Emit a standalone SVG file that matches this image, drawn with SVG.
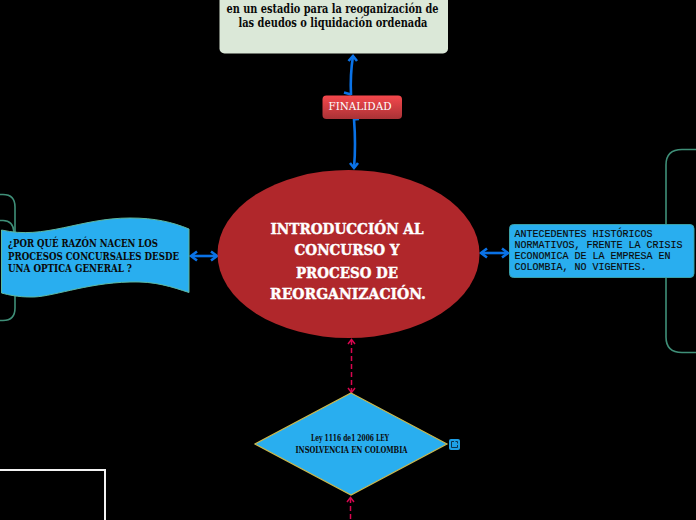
<svg xmlns="http://www.w3.org/2000/svg" width="696" height="520" viewBox="0 0 696 520">
<style>
.s{font-family:"DejaVu Serif Condensed","DejaVu Serif",serif;fill:#0a0a0a;text-anchor:middle}
.b{fill:none;stroke:#0a72e6;stroke-width:2.6}
.p{fill:none;stroke:#d8064f;stroke-width:1.5}
.br{fill:none;stroke:#3f8f78;stroke-width:1.6}
.t{font-family:"DejaVu Serif Condensed","DejaVu Serif",serif;font-weight:bold;font-size:15.5px;fill:#fff;stroke:#fff;stroke-width:.4;text-anchor:middle}
.m{font-family:"Liberation Mono",monospace;font-size:10px;fill:#0a0a0a;stroke:#0a0a0a;stroke-width:.15}
.l{font-family:"DejaVu Serif Condensed","DejaVu Serif",serif;font-weight:bold;font-size:10.5px;fill:#0a0a0a}
</style>
<defs>
<linearGradient id="rg" x1="0" y1="0" x2="0" y2="1"><stop offset="0" stop-color="#f5484c"/><stop offset="1" stop-color="#a93236"/></linearGradient>
</defs>
<rect width="696" height="520" fill="#000"/>
<g id="decor">
<path class="br" d="M0 194.500H3Q15 194.500 15 207V308Q15 320.500 3 320.500H0"/>
<path class="br" d="M0 220.500H3Q13 220.500 14 232"/>
<path class="br" d="M696 149.500H682Q666 149.500 666 165V337Q666 352.500 682 352.500H696"/>
<path d="M0 470H105V520" fill="none" stroke="#f2f2f2" stroke-width="2"/>
</g>
<g id="connectors">
<path class="b" d="M353 56Q350 75 351 95"/>
<path class="b" d="M348.500 61L353 56L357 61"/>
<path class="b" d="M344 92.500L351 94.500"/>
<path class="b" d="M354 119Q356 145 354 168"/>
<path class="b" d="M350 163L354 168L358 163"/>
<path class="b" d="M353 119.500L359 119"/>
<path class="b" d="M192 256H216"/>
<path class="b" d="M197 251.500L191 256L197 260.500M211 251.500L217 256L211 260.500"/>
<path class="b" d="M481 253H508"/>
<path class="b" d="M487 248.500L481 253L487 257.500M502 248.500L508 253L502 257.500"/>
<path class="p" stroke-dasharray="5 3" d="M351.500 340V392"/>
<path class="p" d="M348 344L351.500 339.500L355 344M348 388L351.500 392.500L355 388"/>
<path class="p" stroke-dasharray="5 3" d="M350.500 498V520"/>
<path class="p" d="M347 502L350.500 497.500L354 502"/>
</g>
<g id="node-top">
<rect x="219.500" y="-20" width="228.500" height="73.500" rx="5" fill="#dbe8d8"/>
<text class="s" x="332.500" y="12.500" font-size="12" font-weight="bold" textLength="212" lengthAdjust="spacingAndGlyphs">en un estadio para la reoganización de</text>
<text class="s" x="333" y="27" font-size="12" font-weight="bold" textLength="189" lengthAdjust="spacingAndGlyphs">las deudos o liquidación ordenada</text>
</g>
<g id="node-finalidad">
<rect x="322.500" y="95.500" width="79.500" height="23.500" rx="4" fill="url(#rg)"/>
<text x="360" y="110" font-family="DejaVu Serif Condensed, DejaVu Serif, serif" font-size="11" fill="#fff" text-anchor="middle" textLength="63" lengthAdjust="spacingAndGlyphs">FINALIDAD</text>
</g>
<g id="node-main">
<ellipse cx="348.500" cy="254" rx="131" ry="84" fill="#b0272b"/>
<text class="t" x="347" y="234" textLength="153" lengthAdjust="spacingAndGlyphs">INTRODUCCIÓN AL</text>
<text class="t" x="347" y="255" textLength="105" lengthAdjust="spacingAndGlyphs">CONCURSO Y</text>
<text class="t" x="347" y="278" textLength="102" lengthAdjust="spacingAndGlyphs">PROCESO DE</text>
<text class="t" x="348" y="299" textLength="156" lengthAdjust="spacingAndGlyphs">REORGANIZACIÓN.</text>
</g>
<g id="node-left">
<path d="M1.500 230C45 240 80 218 130 218C155 218 172 222 189 229V292.500C172 287 155 281 130 282C85 283 50 298 30 297C18 297 9 295 1.500 293Z" fill="#29aeef" stroke="#5fb8a0" stroke-width="1"/>
<text class="l" x="8" y="247" textLength="150" lengthAdjust="spacingAndGlyphs">¿POR QUÉ RAZÓN NACEN LOS</text>
<text class="l" x="8" y="260" textLength="171" lengthAdjust="spacingAndGlyphs">PROCESOS CONCURSALES DESDE</text>
<text class="l" x="8" y="272" textLength="124" lengthAdjust="spacingAndGlyphs">UNA OPTICA GENERAL ?</text>
</g>
<g id="node-right">
<rect x="509.500" y="224.500" width="184.500" height="53" rx="4" fill="#29aeef" stroke="#3aa0a8" stroke-width="1"/>
<text class="m" x="514.500" y="236.500">ANTECEDENTES HISTÓRICOS</text>
<text class="m" x="514.500" y="247.500">NORMATIVOS, FRENTE LA CRISIS</text>
<text class="m" x="514.500" y="258.500">ECONOMICA DE LA EMPRESA EN</text>
<text class="m" x="514.500" y="269.500">COLOMBIA, NO VIGENTES.</text>
</g>
<g id="node-ley">
<polygon points="351,393 447,444 351,495 255,444" fill="#29aeef" stroke="#c9b84f" stroke-width="1.2"/>
<text class="s" x="350" y="441" font-size="8.500" font-weight="bold" textLength="78" lengthAdjust="spacingAndGlyphs">Ley 1116 de1 2006 LEY</text>
<text class="s" x="351.500" y="453" font-size="8.500" font-weight="bold" textLength="112" lengthAdjust="spacingAndGlyphs">INSOLVENCIA EN COLOMBIA</text>
<rect x="449" y="439" width="11" height="11" rx="2" fill="#1e9fe6"/>
<path d="M454 441.500H451.500V447.500H457.500V445M455.500 441.500H457.500V443.500" fill="none" stroke="#0d3550" stroke-width="1"/>
</g>
</svg>
